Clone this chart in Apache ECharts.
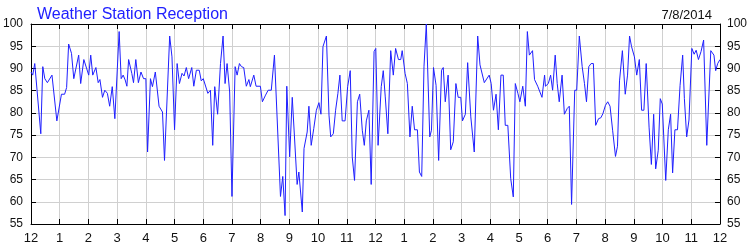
<!DOCTYPE html>
<html>
<head>
<meta charset="utf-8">
<script src="https://cdn.jsdelivr.net/npm/echarts@6/dist/echarts.min.js"></script>
<style>
  html, body { margin: 0; padding: 0; background: #fff; }
  #chart { width: 750px; height: 250px; }
</style>
</head>
<body>
<div id="chart"></div>
<script>
// ---- Data ----
const chartTitle = 'Weather Station Reception';
const chartDate = '7/8/2014';

// time of day in hours (0 = midnight, 24 = next midnight)
const hours = [
  0.00, 0.06, 0.13, 0.34, 0.41, 0.48, 0.57, 0.73, 0.90, 1.06, 1.17, 1.24, 1.31, 1.41, 1.49, 1.66,
  1.73, 1.84, 2.01, 2.08, 2.15, 2.26, 2.34, 2.40, 2.49, 2.57, 2.66, 2.74, 2.83, 2.92,
  3.07, 3.14, 3.21, 3.28, 3.34, 3.40, 3.51, 3.57, 3.65, 3.74, 3.83, 3.92, 4.00, 4.06, 4.16, 4.23,
  4.33, 4.46, 4.58, 4.65, 4.83, 4.91, 5.00, 5.09, 5.17, 5.26, 5.33, 5.41, 5.49, 5.60, 5.67, 5.76,
  5.86, 5.93, 6.00,
  6.16, 6.25, 6.33, 6.40, 6.50, 6.60, 6.69, 6.76, 6.83, 6.92, 7.00, 7.11, 7.18, 7.26, 7.33, 7.41,
  7.50, 7.59, 7.64, 7.76, 7.84, 7.99, 8.06, 8.17, 8.26, 8.37, 8.48, 8.69, 8.77, 8.85,
  8.91, 9.01, 9.10, 9.27, 9.33, 9.45, 9.51, 9.62, 9.68, 9.76, 9.85, 9.94, 10.03, 10.10, 10.17, 10.29,
  10.38, 10.44, 10.53, 10.61, 10.69, 10.76, 10.84, 10.94, 11.03, 11.12, 11.19, 11.27, 11.37, 11.45,
  11.54, 11.61, 11.68, 11.77, 11.85, 11.95, 12.01,
  12.09, 12.20, 12.27, 12.34, 12.43, 12.53, 12.62, 12.70, 12.80, 12.88, 12.93, 13.03, 13.11, 13.20,
  13.28, 13.36, 13.46, 13.53, 13.61, 13.69, 13.77, 13.89, 13.95, 14.02, 14.11, 14.20, 14.30, 14.36,
  14.43, 14.53, 14.62, 14.71, 14.80, 14.88, 14.97,
  15.03, 15.13, 15.21, 15.32, 15.44, 15.56, 15.64, 15.79, 15.96, 16.03, 16.11, 16.20, 16.28, 16.37,
  16.45, 16.52, 16.61, 16.71, 16.80, 16.87, 16.96, 17.03, 17.13, 17.22, 17.29, 17.36, 17.47, 17.54,
  17.65, 17.71, 17.80, 17.89,
  17.92, 18.02, 18.10, 18.17, 18.26, 18.33, 18.40, 18.50, 18.58, 18.68, 18.75, 18.83, 18.94, 19.01,
  19.10, 19.20, 19.28, 19.35, 19.43, 19.51, 19.59, 19.67, 19.77, 19.85, 19.92, 20.01, 20.09, 20.17,
  20.26, 20.36, 20.43, 20.50, 20.60, 20.70, 20.78, 20.85,
  20.92, 21.02, 21.10, 21.19, 21.27, 21.35, 21.43, 21.53, 21.61, 21.69, 21.76, 21.85, 21.92, 21.99,
  22.11, 22.20, 22.28, 22.35, 22.43, 22.52, 22.61, 22.70, 22.76, 22.84, 22.92, 23.02, 23.10, 23.17,
  23.25, 23.34, 23.43, 23.54, 23.68, 23.79, 23.85, 23.92, 24.00
];

// reception in percent
const reception = [
  89.2, 88.5, 91.1, 75.3, 90.4, 87.7, 86.8, 88.5, 78.2, 84.2, 84.2, 85.7, 95.5, 93.4, 87.7, 93.0,
  86.6, 92.0, 88.5, 93.0, 88.5, 90.2, 86.8, 87.5, 83.5, 85.1, 84.4, 81.5, 85.9, 78.7,
  98.3, 87.7, 88.5, 87.4, 86.0, 92.0, 88.9, 86.8, 92.0, 86.8, 89.2, 87.7, 87.7, 71.2, 87.7, 85.9,
  89.2, 81.5, 80.2, 69.3, 97.3, 92.6, 76.2, 91.1, 86.6, 88.9, 88.3, 90.2, 87.7, 90.2, 86.0, 89.6,
  89.6, 87.2, 87.7,
  84.4, 85.1, 72.7, 85.9, 79.7, 91.1, 97.3, 86.6, 91.1, 84.7, 61.2, 90.4, 88.5, 91.1, 90.4, 90.2,
  86.0, 87.5, 85.9, 88.5, 86.0, 86.0, 82.5, 84.0, 85.1, 85.1, 93.0, 61.2, 65.7, 56.9,
  86.0, 70.1, 83.5, 63.9, 66.7, 57.7, 72.0, 75.7, 81.5, 72.7, 76.5, 80.6, 82.3, 79.7, 94.9, 97.3,
  79.5, 74.6, 75.3, 80.6, 84.4, 88.5, 78.2, 78.2, 85.9, 89.5, 70.1, 64.8, 82.5, 84.2,
  76.1, 72.7, 78.2, 80.6, 63.9, 93.8, 94.5,
  72.7, 85.9, 89.5, 83.6, 75.3, 94.0, 88.5, 94.5, 92.0, 92.0, 94.0, 88.9, 86.6, 74.6,
  81.5, 76.2, 76.2, 66.7, 65.7, 90.5, 100.0, 74.6, 76.1, 90.2, 86.2, 69.3, 89.6, 90.2,
  82.5, 88.5, 71.7, 73.5, 86.6, 83.5, 83.5,
  78.2, 79.7, 91.3, 79.1, 71.2, 97.3, 90.8, 86.8, 88.5, 86.6, 80.6, 84.2, 76.2, 88.5,
  88.5, 77.2, 77.2, 65.2, 61.1, 86.6, 84.4, 82.5, 86.0, 81.5, 98.3, 93.0, 94.0, 87.5,
  86.0, 85.9, 83.5, 88.5,
  86.0, 86.6, 88.5, 85.1, 93.0, 86.6, 82.5, 88.5, 79.7, 81.0, 81.5, 59.4, 85.1, 85.1,
  97.3, 90.4, 86.6, 82.5, 90.4, 91.1, 91.1, 77.2, 78.7, 78.9, 79.8, 81.7, 82.5, 81.5,
  76.1, 70.2, 72.5, 87.2, 94.0, 84.2, 88.5, 97.3,
  94.9, 92.6, 88.5, 92.0, 80.6, 80.6, 91.1, 76.8, 68.4, 79.7, 67.4, 71.6, 83.2, 82.0,
  64.8, 76.2, 79.7, 66.5, 76.2, 76.2, 86.2, 93.0, 83.2, 74.6, 78.4, 94.5, 93.2, 94.1,
  92.0, 93.8, 96.4, 72.7, 94.0, 93.0, 89.5, 91.1, 92.0
];

// hour tick labels (0..24)
const hourLabels = ['12','1','2','3','4','5','6','7','8','9','10','11',
                    '12','1','2','3','4','5','6','7','8','9','10','11','12'];

const yMin = 55, yMax = 100, yStep = 5;

// ---- Chart ----
const FONT = '"Liberation Sans", Arial, sans-serif';
const chart = echarts.init(document.getElementById('chart'), null, { renderer: 'canvas' });

const seriesData = hours.map((h, i) => [h, reception[i]]);

const frameLine = { show: true, onZero: false, lineStyle: { color: '#000', width: 1 } };
const innerTick = { show: true, inside: true, length: 5, lineStyle: { color: '#000', width: 1 } };
const gridLine = { show: true, lineStyle: { color: '#d0d0d0', width: 1 } };

chart.setOption({
  animation: false,
  backgroundColor: '#fff',
  title: [
    {
      text: chartTitle,
      left: 32, top: 2,
      textStyle: { fontFamily: FONT, fontSize: 16, fontWeight: 'normal', color: '#2020ff' }
    },
    {
      text: chartDate,
      right: 33, top: 4,
      textStyle: { fontFamily: FONT, fontSize: 13, fontWeight: 'normal', color: '#111' }
    }
  ],
  grid: { left: 30, right: 30, top: 24, height: 200, containLabel: false },
  xAxis: [
    {
      type: 'value', position: 'bottom', min: 0, max: 24, interval: 1,
      axisLine: frameLine, axisTick: innerTick, splitLine: gridLine,
      axisLabel: {
        show: true, margin: 8, fontFamily: FONT, fontSize: 13, color: '#111',
        formatter: v => hourLabels[Math.round(v)]
      }
    },
    {
      type: 'value', position: 'top', min: 0, max: 24, interval: 1,
      axisLine: frameLine, axisTick: innerTick, splitLine: { show: false },
      axisLabel: { show: false }
    }
  ],
  yAxis: [
    {
      type: 'value', position: 'left', min: yMin, max: yMax, interval: yStep,
      axisLine: frameLine, axisTick: innerTick, splitLine: gridLine,
      axisLabel: { show: true, margin: 8, fontFamily: FONT, fontSize: 12, color: '#111' }
    },
    {
      type: 'value', position: 'right', min: yMin, max: yMax, interval: yStep,
      axisLine: frameLine, axisTick: innerTick, splitLine: { show: false },
      axisLabel: { show: true, margin: 7, fontFamily: FONT, fontSize: 12, color: '#111' }
    }
  ],
  series: [
    {
      type: 'line',
      xAxisIndex: 0, yAxisIndex: 0,
      data: seriesData,
      symbol: 'none',
      lineStyle: { color: '#1f1fff', width: 1 },
      itemStyle: { color: '#1f1fff' },
      z: 3
    }
  ]
});
</script>
</body>
</html>
